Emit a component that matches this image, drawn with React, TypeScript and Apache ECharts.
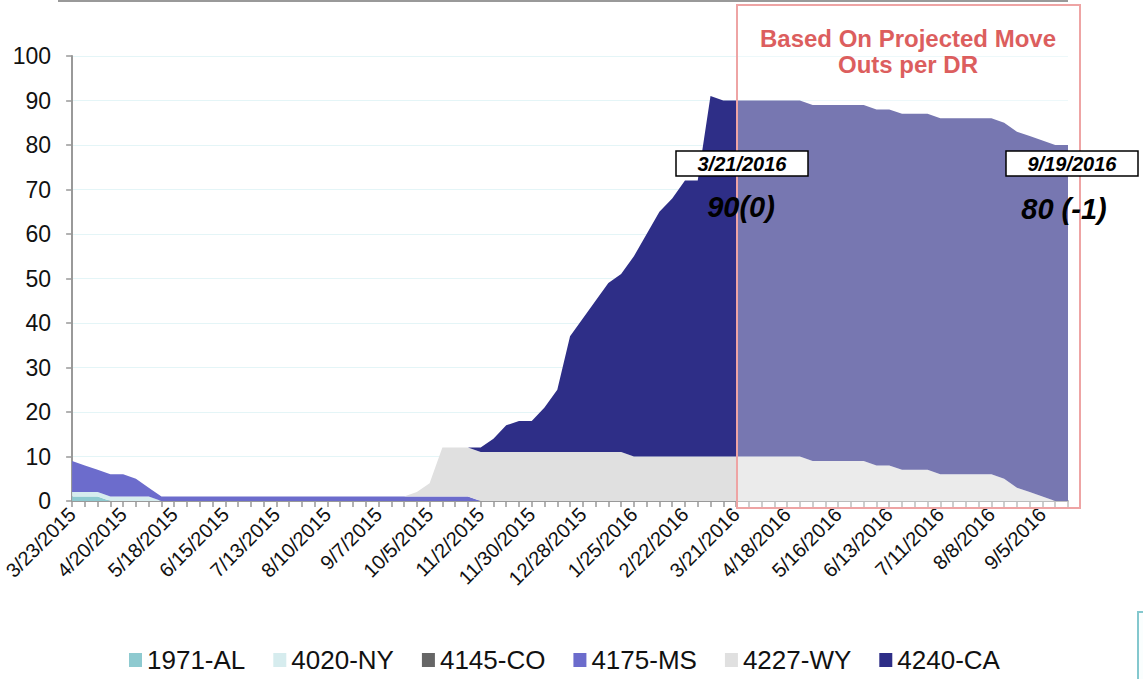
import React, { useEffect, useRef } from "react";
import * as echarts from "echarts";

const FONT = '"Liberation Sans", Arial, Helvetica, sans-serif';

const dates = [
  "3/23/2015", "3/30/2015", "4/6/2015", "4/13/2015", "4/20/2015", "4/27/2015", "5/4/2015", "5/11/2015",
  "5/18/2015", "5/25/2015", "6/1/2015", "6/8/2015", "6/15/2015", "6/22/2015", "6/29/2015", "7/6/2015",
  "7/13/2015", "7/20/2015", "7/27/2015", "8/3/2015", "8/10/2015", "8/17/2015", "8/24/2015", "8/31/2015",
  "9/7/2015", "9/14/2015", "9/21/2015", "9/28/2015", "10/5/2015", "10/12/2015", "10/19/2015", "10/26/2015",
  "11/2/2015", "11/9/2015", "11/16/2015", "11/23/2015", "11/30/2015", "12/7/2015", "12/14/2015", "12/21/2015",
  "12/28/2015", "1/4/2016", "1/11/2016", "1/18/2016", "1/25/2016", "2/1/2016", "2/8/2016", "2/15/2016",
  "2/22/2016", "2/29/2016", "3/7/2016", "3/14/2016", "3/21/2016", "3/28/2016", "4/4/2016", "4/11/2016",
  "4/18/2016", "4/25/2016", "5/2/2016", "5/9/2016", "5/16/2016", "5/23/2016", "5/30/2016", "6/6/2016",
  "6/13/2016", "6/20/2016", "6/27/2016", "7/4/2016", "7/11/2016", "7/18/2016", "7/25/2016", "8/1/2016",
  "8/8/2016", "8/15/2016", "8/22/2016", "8/29/2016", "9/5/2016", "9/12/2016", "9/19/2016",
];

const al1971 = [
  1, 1, 1, 0, 0, 0, 0, 0, 0, 0, 0, 0, 0, 0, 0, 0, 0, 0, 0, 0, 0, 0, 0, 0, 0, 0, 0, 0, 0, 0, 0, 0,
  0, 0, 0, 0, 0, 0, 0, 0, 0, 0, 0, 0, 0, 0, 0, 0, 0, 0, 0, 0, 0, 0, 0, 0, 0, 0, 0, 0, 0, 0, 0, 0,
  0, 0, 0, 0, 0, 0, 0, 0, 0, 0, 0, 0, 0, 0, 0,
];
const ny4020 = [
  1, 1, 1, 1, 1, 1, 1, 0, 0, 0, 0, 0, 0, 0, 0, 0, 0, 0, 0, 0, 0, 0, 0, 0, 0, 0, 0, 0, 0, 0, 0, 0,
  0, 0, 0, 0, 0, 0, 0, 0, 0, 0, 0, 0, 0, 0, 0, 0, 0, 0, 0, 0, 0, 0, 0, 0, 0, 0, 0, 0, 0, 0, 0, 0,
  0, 0, 0, 0, 0, 0, 0, 0, 0, 0, 0, 0, 0, 0, 0,
];
const co4145 = [
  0, 0, 0, 0, 0, 0, 0, 0, 0, 0, 0, 0, 0, 0, 0, 0, 0, 0, 0, 0, 0, 0, 0, 0, 0, 0, 0, 0, 0, 0, 0, 0,
  0, 0, 0, 0, 0, 0, 0, 0, 0, 0, 0, 0, 0, 0, 0, 0, 0, 0, 0, 0, 0, 0, 0, 0, 0, 0, 0, 0, 0, 0, 0, 0,
  0, 0, 0, 0, 0, 0, 0, 0, 0, 0, 0, 0, 0, 0, 0,
];
const ms4175 = [
  7, 6, 5, 5, 5, 4, 2, 1, 1, 1, 1, 1, 1, 1, 1, 1, 1, 1, 1, 1, 1, 1, 1, 1, 1, 1, 1, 1, 1, 1, 1, 1,
  0, 0, 0, 0, 0, 0, 0, 0, 0, 0, 0, 0, 0, 0, 0, 0, 0, 0, 0, 0, 0, 0, 0, 0, 0, 0, 0, 0, 0, 0, 0, 0,
  0, 0, 0, 0, 0, 0, 0, 0, 0, 0, 0, 0, 0, 0, 0,
];
const wy4227 = [
  0, 0, 0, 0, 0, 0, 0, 0, 0, 0, 0, 0, 0, 0, 0, 0, 0, 0, 0, 0, 0, 0, 0, 0, 0, 0, 0, 1, 3, 11, 11, 11,
  11, 11, 11, 11, 11, 11, 11, 11, 11, 11, 11, 11, 10, 10, 10, 10, 10, 10, 10, 10, 10, 10, 10, 10, 10, 10, 9, 9, 9, 9, 9, 8,
  8, 7, 7, 7, 6, 6, 6, 6, 6, 5, 3, 2, 1, 0, 0,
];
const ca4240 = [
  0, 0, 0, 0, 0, 0, 0, 0, 0, 0, 0, 0, 0, 0, 0, 0, 0, 0, 0, 0, 0, 0, 0, 0, 0, 0, 0, 0, 0, 0, 0, 0,
  1, 3, 6, 7, 7, 10, 14, 26, 30, 34, 38, 40, 45, 50, 55, 58, 62, 62, 81, 80, 80, 80, 80, 80, 80, 80, 80, 80, 80, 80, 80, 80,
  80, 80, 80, 80, 80, 80, 80, 80, 80, 80, 80, 80, 80, 80, 80,
];

const seriesNames = ["1971-AL", "4020-NY", "4145-CO", "4175-MS", "4227-WY", "4240-CA"];
const seriesData = [al1971, ny4020, co4145, ms4175, wy4227, ca4240];
const seriesColors = ["#8ecad0", "#d6ecee", "#666666", "#6c6ccc", "#e0e0e0", "#2e2e87"];

const overlayTitle = "Based On Projected Move\nOuts per DR";
const note1Date = "3/21/2016";
const note1Value = "90(0)";
const note2Date = "9/19/2016";
const note2Value = "80 (-1)";

export default function App() {
  const ref = useRef<HTMLDivElement>(null);
  useEffect(() => {
    if (!ref.current) return;
    const chart = echarts.init(ref.current, null, { renderer: "svg" });
    const option = {
      animation: false,
      backgroundColor: "#ffffff",
      grid: { left: 72, right: 75, top: 56, bottom: 178, containLabel: false },
      legend: {
        bottom: 1,
        left: 124,
        icon: "rect",
        itemWidth: 13,
        itemHeight: 14,
        itemGap: 28,
        data: seriesNames,
        textStyle: { fontSize: 26, color: "#111", fontFamily: FONT },
      },
      xAxis: {
        type: "category",
        data: dates,
        boundaryGap: false,
        axisLine: { lineStyle: { color: "#999", width: 2 } },
        axisTick: { show: true, interval: 0, length: 6, lineStyle: { color: "#999", width: 1.5 } },
        axisLabel: {
          interval: 3,
          rotate: 45,
          fontSize: 20,
          color: "#111",
          fontFamily: FONT,
          margin: 10,
        },
        splitLine: { show: false },
      },
      yAxis: {
        type: "value",
        min: 0,
        max: 100,
        interval: 10,
        axisLine: { show: true, lineStyle: { color: "#999", width: 2 } },
        axisTick: { show: true, length: 6, lineStyle: { color: "#999", width: 1.5 } },
        axisLabel: { fontSize: 23, color: "#111", fontFamily: FONT, margin: 21 },
        splitLine: { lineStyle: { color: "#e4f5f7", width: 1 } },
      },
      series: seriesNames.map((name, i) => ({
        name,
        type: "line",
        stack: "total",
        data: seriesData[i],
        symbol: "none",
        showSymbol: false,
        lineStyle: { width: 0 },
        itemStyle: { color: seriesColors[i] },
        areaStyle: { color: seriesColors[i], opacity: 1 },
      })),
      graphic: [
        {
          type: "line",
          z: 100,
          shape: { x1: 58, y1: 1, x2: 1068, y2: 1 },
          style: { stroke: "#999", lineWidth: 2 },
        },
        {
          type: "rect",
          z: 100,
          shape: { x: 737, y: 5, width: 343, height: 503 },
          style: { fill: "rgba(255,255,255,0.35)", stroke: "#eea4a4", lineWidth: 2 },
        },
        {
          type: "text",
          z: 101,
          style: {
            text: overlayTitle,
            x: 908,
            y: 25,
            textAlign: "center",
            fill: "#dc5e5e",
            fontSize: 24,
            fontWeight: "bold",
            fontFamily: FONT,
            lineHeight: 26,
          },
        },
        {
          type: "rect",
          z: 102,
          shape: { x: 676, y: 151, width: 132, height: 25 },
          style: { fill: "#fff", stroke: "#000", lineWidth: 1.5 },
        },
        {
          type: "text",
          z: 103,
          style: {
            text: note1Date,
            x: 742,
            y: 164,
            textAlign: "center",
            textVerticalAlign: "middle",
            fill: "#000",
            fontSize: 20,
            fontWeight: "bold",
            fontStyle: "italic",
            fontFamily: FONT,
          },
        },
        {
          type: "text",
          z: 103,
          style: {
            text: note1Value,
            x: 741,
            y: 207,
            textAlign: "center",
            textVerticalAlign: "middle",
            fill: "#000",
            fontSize: 29,
            fontWeight: "bold",
            fontStyle: "italic",
            fontFamily: FONT,
          },
        },
        {
          type: "rect",
          z: 102,
          shape: { x: 1006, y: 151, width: 132, height: 25 },
          style: { fill: "#fff", stroke: "#000", lineWidth: 1.5 },
        },
        {
          type: "text",
          z: 103,
          style: {
            text: note2Date,
            x: 1072,
            y: 164,
            textAlign: "center",
            textVerticalAlign: "middle",
            fill: "#000",
            fontSize: 20,
            fontWeight: "bold",
            fontStyle: "italic",
            fontFamily: FONT,
          },
        },
        {
          type: "text",
          z: 103,
          style: {
            text: note2Value,
            x: 1064,
            y: 209,
            textAlign: "center",
            textVerticalAlign: "middle",
            fill: "#000",
            fontSize: 29,
            fontWeight: "bold",
            fontStyle: "italic",
            fontFamily: FONT,
          },
        },
        {
          type: "rect",
          z: 100,
          shape: { x: 1138, y: 612, width: 30, height: 100 },
          style: { fill: "#fafefe", stroke: "#84c8ce", lineWidth: 2 },
        },
      ],
    };
    chart.setOption(option as any);
    return () => chart.dispose();
  }, []);
  return (
    <div
      ref={ref}
      style={{ position: "absolute", left: 0, top: 0, width: 1143, height: 679 }}
    />
  );
}
